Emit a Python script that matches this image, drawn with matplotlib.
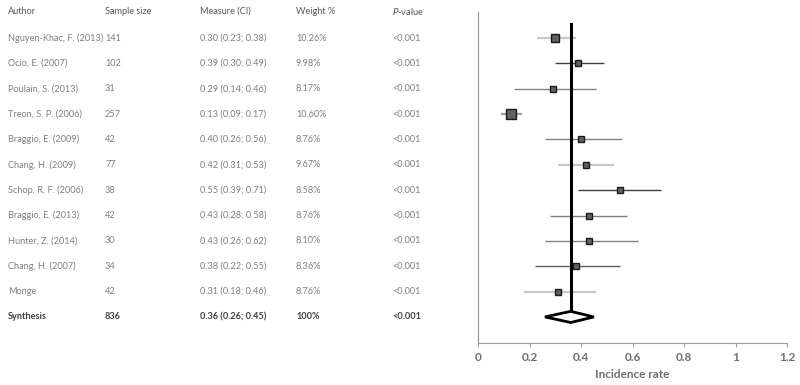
import matplotlib
matplotlib.use('Agg')
import matplotlib.pyplot as plt
import matplotlib.transforms as mtransforms

plt.rcParams['font.family'] = ['Lato', 'DejaVu Sans']

authors = ['Nguyen-Khac, F. (2013)', 'Ocio, E. (2007)', 'Poulain, S. (2013)', 'Treon, S. P. (2006)',
           'Braggio, E. (2009)', 'Chang, H. (2009)', 'Schop, R. F. (2006)', 'Braggio, E. (2013)',
           'Hunter, Z. (2014)', 'Chang, H. (2007)', 'Monge']
sample_size = [141, 102, 31, 257, 42, 77, 38, 42, 30, 34, 42]
measure = [0.30, 0.39, 0.29, 0.13, 0.40, 0.42, 0.55, 0.43, 0.43, 0.38, 0.31]
ci_low = [0.23, 0.30, 0.14, 0.09, 0.26, 0.31, 0.39, 0.28, 0.26, 0.22, 0.18]
ci_high = [0.38, 0.49, 0.46, 0.17, 0.56, 0.53, 0.71, 0.58, 0.62, 0.55, 0.46]
weight = ['10.26%', '9.98%', '8.17%', '10.60%', '8.76%', '9.67%', '8.58%', '8.76%', '8.10%', '8.36%', '8.76%']
pvalue = ['<0.001'] * 11

syn_n = 836
syn_m = 0.36
syn_lo = 0.26
syn_hi = 0.45
syn_w = '100%'
syn_p = '<0.001'

headers = ['Author', 'Sample size', 'Measure (CI)', 'Weight %']
xticks = [0, 0.2, 0.4, 0.6, 0.8, 1, 1.2]

# styles per row
box_size = [6.3, 4.4, 3.7, 7.7, 3.9, 3.9, 3.9, 3.8, 4.3, 3.9, 3.9]
line_col = ['#c8c8c8', '#404040', '#808080', '#a0a0a0', '#808080', '#c8c8c8', '#404040',
            '#808080', '#808080', '#606060', '#c8c8c8']
line_w = [1.6, 1.0, 1.0, 1.6, 1.0, 1.6, 1.0, 1.0, 1.0, 1.0, 1.6]

fig = plt.figure(figsize=(8, 3.85), dpi=100)
ax = fig.add_axes([0.5975, 0.109, 0.98375 - 0.5975, 0.969 - 0.109])

for i in range(len(authors)):
    ax.plot([ci_low[i], ci_high[i]], [i, i], color=line_col[i], lw=line_w[i], solid_capstyle='butt', zorder=2)
    ax.plot(measure[i], i, marker='s', ms=box_size[i], mfc='#606060', mec='#1a1a1a', mew=1.0, zorder=4)

ns = len(authors)
dh = 0.22
ax.plot([syn_m, syn_m], [-0.55, ns - dh], color='black', lw=2.2, zorder=3)
ax.fill([syn_lo, syn_m, syn_hi, syn_m, syn_lo], [ns, ns - dh, ns, ns + dh, ns],
        facecolor='white', edgecolor='black', lw=2, zorder=5)

ax.set_xlim(0, 1.2)
ax.set_ylim(12.03, -1.03)
ax.set_xticks(xticks)
ax.set_xticklabels(['0', '0.2', '0.4', '0.6', '0.8', '1', '1.2'], fontweight='bold')
ax.set_yticks([])
for s in ['top', 'right']:
    ax.spines[s].set_visible(False)
ax.spines['left'].set_color('#909090')
ax.spines['bottom'].set_color('#a0a0a0')
ax.tick_params(axis='x', colors='#a0a0a0', length=3, labelcolor='#6e6e6e', labelsize=8.5)
ax.set_xlabel('Incidence rate', color='#6e6e6e', fontsize=8.5, labelpad=4, fontweight='bold')

trans = mtransforms.blended_transform_factory(fig.transFigure, ax.transData)
col_x = [8 / 800, 105 / 800, 200 / 800, 296 / 800, 392 / 800]
body = '#7f7f7f'
head = '#595959'
fs = 6.6

for j, h in enumerate(headers):
    fig.text(col_x[j], -1.05, h, transform=trans, fontsize=fs, color=head, va='center')
fig.text(col_x[4], -1.05, '$\\it{P}$-value', transform=trans, fontsize=fs, color=head, va='center')

for i in range(ns):
    vals = [authors[i], str(sample_size[i]),
            '%.2f (%.2f; %.2f)' % (measure[i], ci_low[i], ci_high[i]), weight[i], pvalue[i]]
    for j, v in enumerate(vals):
        fig.text(col_x[j], i, v, transform=trans, fontsize=fs, color=body, va='center')

syn_vals = ['Synthesis', str(syn_n), '%.2f (%.2f; %.2f)' % (syn_m, syn_lo, syn_hi), syn_w, syn_p]
for j, v in enumerate(syn_vals):
    fig.text(col_x[j], ns, v, transform=trans, fontsize=fs, color='#404040', va='center', fontweight='bold')

fig.savefig('out.png', dpi=100)
